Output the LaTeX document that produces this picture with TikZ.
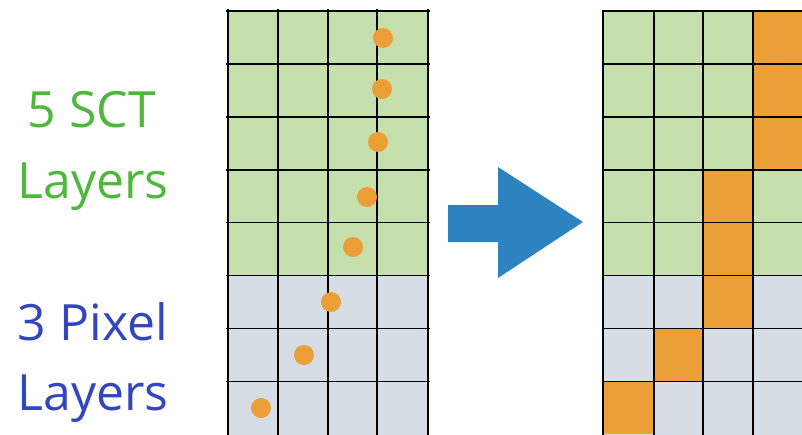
\documentclass[tikz,border=0pt]{standalone}
\usepackage{fontspec}
\setmainfont{Open Sans}
\definecolor{sctgreen}{HTML}{C5E0AD}
\definecolor{pixgray}{HTML}{D6DDE4}
\definecolor{hitorange}{HTML}{EC9F36}
\definecolor{arrowblue}{HTML}{2C83C0}
\definecolor{labgreen}{HTML}{4DB83B}
\definecolor{labblue}{HTML}{3346BE}
\tikzset{
  gridline/.style={line width=1.6pt, black},
  hitdot/.style={circle, fill=hitorange, inner sep=0pt, minimum size=20pt},
  lab/.style={font=\fontsize{50}{60}\selectfont, inner sep=0pt, anchor=base}
}
\begin{document}
\begin{tikzpicture}[x=1pt,y=-1pt]
\useasboundingbox (0,0) rectangle (802,434);
% left grid fills
\fill[sctgreen] (228,11) rectangle (428,276);
\fill[pixgray] (228,276) rectangle (428,436);
% right grid fills
\fill[sctgreen] (603,11) rectangle (805,276);
\fill[pixgray] (603,276) rectangle (805,436);
% orange cells on right
\foreach \c/\r in {3/0,3/1,3/2,2/3,2/4,2/5,1/6,0/7}{
  \pgfmathsetmacro{\xa}{{603,654,703,753}[\c]}
  \pgfmathsetmacro{\xb}{{654,703,753,805}[\c]}
  \fill[hitorange] (\xa,11+52.9*\r) rectangle (\xb,11+52.9*\r+52.9);
}
% left grid lines
\foreach \x in {228,278,328,377,428}{\draw[gridline] (\x,9) -- (\x,436);}
\foreach \r in {0,...,7}{\draw[gridline] (226,11+52.9*\r) -- (430,11+52.9*\r);}
% right grid lines
\foreach \x in {603,654,703,753}{\draw[gridline] (\x,10) -- (\x,436);}
\foreach \r in {0,...,7}{\draw[gridline] (602,11+52.9*\r) -- (805,11+52.9*\r);}
% dots
\node[hitdot] (d1) at (383,38) {};
\node[hitdot] (d2) at (382,89) {};
\node[hitdot] (d3) at (378,142) {};
\node[hitdot] (d4) at (367,197) {};
\node[hitdot] (d5) at (353,247) {};
\node[hitdot] (d6) at (331,302) {};
\node[hitdot] (d7) at (304,355) {};
\node[hitdot] (d8) at (261,408) {};
% arrow
\fill[arrowblue] (448,205) -- (498,205) -- (498,167) -- (583,222) -- (498,278) -- (498,242) -- (448,242) -- cycle;
% labels
\node[lab, text=labgreen] (t1) at (92,127) {5 SCT};
\node[lab, text=labgreen] (t2) at (93,198) {Layers};
\node[lab, text=labblue] (t3) at (93,340) {3 Pixel};
\node[lab, text=labblue] (t4) at (93,410) {Layers};
\end{tikzpicture}
\end{document}
